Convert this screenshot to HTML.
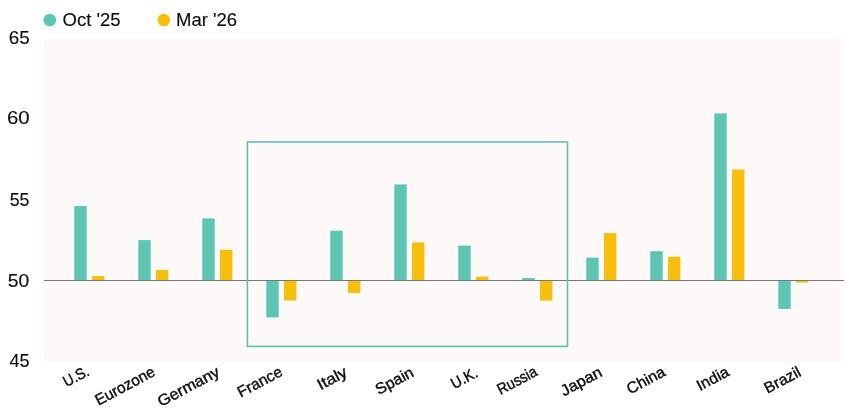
<!DOCTYPE html>
<html><head><meta charset="utf-8"><title>chart</title>
<style>
html,body{margin:0;padding:0;background:#fff;}
body{width:862px;height:411px;overflow:hidden;font-family:"Liberation Sans",sans-serif;}
svg{display:block}
text{font-family:"Liberation Sans",sans-serif;fill:#111;}
.txt{opacity:0.999;}
.txt text{stroke:#0c0c0c;fill:#0c0c0c;stroke-linejoin:round;}
</style></head><body>
<svg width="862" height="411" viewBox="0 0 862 411">
<rect x="0" y="0" width="862" height="411" fill="#ffffff"/>
<rect x="44" y="39.3" width="799.5" height="323" fill="#fdf9f8"/>
<rect x="74.3" y="206.1" width="12.4" height="74.4" fill="#5dc5b3"/>
<rect x="92.0" y="276.0" width="12.4" height="4.5" fill="#f6bf0d"/>
<rect x="138.3" y="240.1" width="12.4" height="40.4" fill="#5dc5b3"/>
<rect x="156.0" y="270.0" width="12.4" height="10.5" fill="#f6bf0d"/>
<rect x="202.3" y="218.4" width="12.4" height="62.1" fill="#5dc5b3"/>
<rect x="220.0" y="249.7" width="12.4" height="30.8" fill="#f6bf0d"/>
<rect x="266.3" y="280.5" width="12.4" height="36.9" fill="#5dc5b3"/>
<rect x="284.0" y="280.5" width="12.4" height="20.0" fill="#f6bf0d"/>
<rect x="330.3" y="230.7" width="12.4" height="49.8" fill="#5dc5b3"/>
<rect x="348.0" y="280.5" width="12.4" height="12.5" fill="#f6bf0d"/>
<rect x="394.3" y="184.4" width="12.4" height="96.1" fill="#5dc5b3"/>
<rect x="412.0" y="242.4" width="12.4" height="38.1" fill="#f6bf0d"/>
<rect x="458.3" y="245.6" width="12.4" height="34.9" fill="#5dc5b3"/>
<rect x="476.0" y="276.6" width="12.4" height="3.9" fill="#f6bf0d"/>
<rect x="522.3" y="278.0" width="12.4" height="2.5" fill="#5dc5b3"/>
<rect x="540.0" y="280.5" width="12.4" height="20.1" fill="#f6bf0d"/>
<rect x="586.3" y="257.6" width="12.4" height="22.9" fill="#5dc5b3"/>
<rect x="604.0" y="233.1" width="12.4" height="47.4" fill="#f6bf0d"/>
<rect x="650.3" y="251.2" width="12.4" height="29.3" fill="#5dc5b3"/>
<rect x="668.0" y="256.7" width="12.4" height="23.8" fill="#f6bf0d"/>
<rect x="714.3" y="113.4" width="12.4" height="167.1" fill="#5dc5b3"/>
<rect x="732.0" y="169.5" width="12.4" height="111.0" fill="#f6bf0d"/>
<rect x="778.3" y="280.5" width="12.4" height="28.5" fill="#5dc5b3"/>
<rect x="796.0" y="280.5" width="12.4" height="2.0" fill="#f6bf0d"/>
<rect x="44" y="280" width="800" height="1" fill="#777777"/>
<rect x="247.4" y="142" width="320.1" height="204.4" fill="none" stroke="#62bfae" stroke-width="1.6"/>
<circle cx="49.75" cy="20.0" r="6.3" fill="#5dc5b3"/>
<circle cx="163.75" cy="20.0" r="6.3" fill="#f6bf0d"/>
<g class="txt">
<text transform="translate(90.46,374.63) rotate(-28)" text-anchor="end" font-size="15.5" stroke-width="0.4" textLength="27.06" lengthAdjust="spacingAndGlyphs">U.S.</text>
<text transform="translate(156.38,374.97) rotate(-28)" text-anchor="end" font-size="15.5" stroke-width="0.4" textLength="65.65" lengthAdjust="spacingAndGlyphs">Eurozone</text>
<text transform="translate(220.80,375.14) rotate(-28)" text-anchor="end" font-size="15.5" stroke-width="0.4" textLength="67.83" lengthAdjust="spacingAndGlyphs">Germany</text>
<text transform="translate(283.64,374.90) rotate(-28)" text-anchor="end" font-size="15.5" stroke-width="0.4" textLength="48.49" lengthAdjust="spacingAndGlyphs">France</text>
<text transform="translate(348.45,375.49) rotate(-28)" text-anchor="end" font-size="15.5" stroke-width="0.4" textLength="31.65" lengthAdjust="spacingAndGlyphs">Italy</text>
<text transform="translate(414.97,375.70) rotate(-28)" text-anchor="end" font-size="15.5" stroke-width="0.4" textLength="40.96" lengthAdjust="spacingAndGlyphs">Spain</text>
<text transform="translate(479.07,376.05) rotate(-28)" text-anchor="end" font-size="15.5" stroke-width="0.4" textLength="28.02" lengthAdjust="spacingAndGlyphs">U.K.</text>
<text transform="translate(538.42,374.83) rotate(-28)" text-anchor="end" font-size="15.5" stroke-width="0.4" textLength="42.91" lengthAdjust="spacingAndGlyphs">Russia</text>
<text transform="translate(603.30,375.56) rotate(-28)" text-anchor="end" font-size="15.5" stroke-width="0.4" textLength="44.45" lengthAdjust="spacingAndGlyphs">Japan</text>
<text transform="translate(666.49,375.11) rotate(-28)" text-anchor="end" font-size="15.5" stroke-width="0.4" textLength="41.21" lengthAdjust="spacingAndGlyphs">China</text>
<text transform="translate(730.28,375.02) rotate(-28)" text-anchor="end" font-size="15.5" stroke-width="0.4" textLength="34.34" lengthAdjust="spacingAndGlyphs">India</text>
<text transform="translate(802.08,375.32) rotate(-28)" text-anchor="end" font-size="15.5" stroke-width="0.4" textLength="39.04" lengthAdjust="spacingAndGlyphs">Brazil</text>
<text transform="translate(29.65,43.91)" text-anchor="end" font-size="18" stroke-width="0.12" textLength="20.87" lengthAdjust="spacingAndGlyphs">65</text>
<text transform="translate(29.65,124.41)" text-anchor="end" font-size="18" stroke-width="0.12" textLength="22.73" lengthAdjust="spacingAndGlyphs">60</text>
<text transform="translate(29.48,205.66)" text-anchor="end" font-size="18" stroke-width="0.12" textLength="19.72" lengthAdjust="spacingAndGlyphs">55</text>
<text transform="translate(29.15,286.87)" text-anchor="end" font-size="18" stroke-width="0.12" textLength="21.43" lengthAdjust="spacingAndGlyphs">50</text>
<text transform="translate(29.48,367.23)" text-anchor="end" font-size="18" stroke-width="0.12" textLength="20.10" lengthAdjust="spacingAndGlyphs">45</text>
<text transform="translate(120.53,25.86)" text-anchor="end" font-size="17.5" stroke-width="0.12" textLength="58.06" lengthAdjust="spacingAndGlyphs">Oct '25</text>
<text transform="translate(237.11,25.86)" text-anchor="end" font-size="17.5" stroke-width="0.12" textLength="61.07" lengthAdjust="spacingAndGlyphs">Mar '26</text>
</g>
</svg></body></html>
